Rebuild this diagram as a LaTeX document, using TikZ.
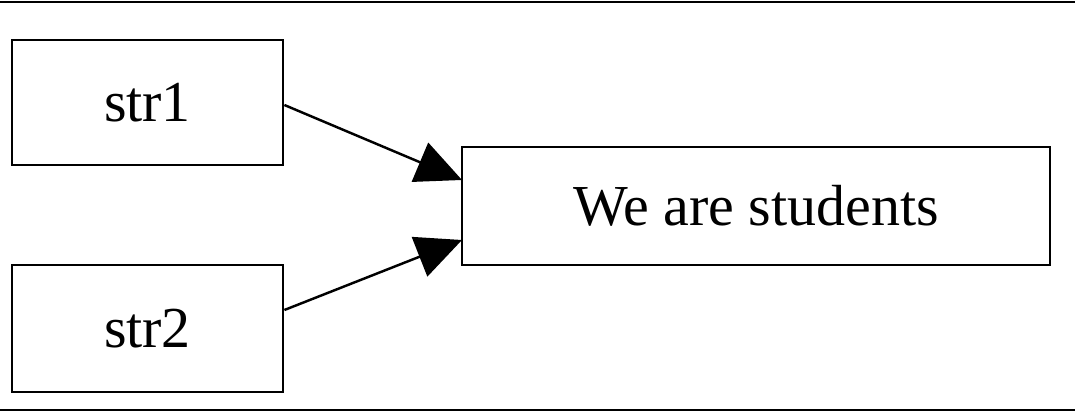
\documentclass[tikz,border=0pt]{standalone}
\usepackage{fontspec}
\setmainfont{Liberation Serif}
\usetikzlibrary{arrows.meta}
\begin{document}
\begin{tikzpicture}[x=0.02cm,y=-0.02cm,
  box/.style={draw,line width=1.6pt,inner sep=0pt,font=\fontsize{33}{40}\selectfont},
  conn/.style={line width=1.4pt,-{Triangle[length=30\pgflinewidth*0.02cm/0.02cm,width=24pt,length=26pt]}}]
\useasboundingbox (0,0) rectangle (1075,415);
\draw[line width=1pt] (0,2) -- (1075,2);
\draw[line width=1pt] (0,410) -- (1075,410);
\node[box,minimum width=271*0.02cm,minimum height=125*0.02cm] (s1) at (147.5,102.5) {str1};
\node[box,minimum width=271*0.02cm,minimum height=127*0.02cm] (s2) at (147.5,328.5) {str2};
\node[box,minimum width=588*0.02cm,minimum height=118*0.02cm] (w) at (756,206) {We are students};
\coordinate (a1) at (462,180);
\coordinate (a2) at (462,240);
\draw[line width=1.4pt,-{Triangle[width=24pt,length=26pt]}] (s1.east |- 0,105) -- (a1);
\draw[line width=1.4pt,-{Triangle[width=24pt,length=26pt]}] (s2.east |- 0,310) -- (a2);
\end{tikzpicture}
\end{document}
